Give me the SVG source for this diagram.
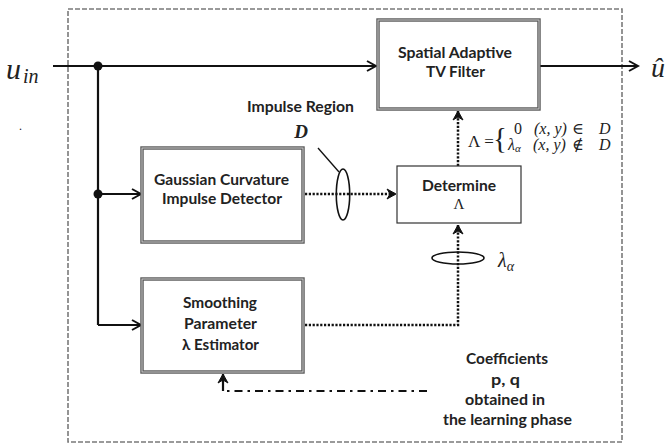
<svg xmlns="http://www.w3.org/2000/svg" width="667" height="446" viewBox="0 0 667 446">
<style>
  .lbl { font-family: Lato, "Liberation Sans", sans-serif; font-weight: 700; font-size: 14.5px; fill: #222; text-anchor: middle; }
  .math { font-family: "Liberation Serif", "DejaVu Serif", serif; font-style: italic; fill: #222; }
  .mathr { font-family: "Liberation Serif", "DejaVu Serif", serif; fill: #222; }
  .boxo { fill: #fff; stroke: #555; stroke-width: 3.4; }
  .boxi { fill: none; stroke: #cfcfcf; stroke-width: 1; }
  .solid { fill: none; stroke: #111; stroke-width: 2.2; }
  .dot { fill: none; stroke: #111; stroke-width: 2.5; stroke-dasharray: 2.2 1.6; }
  .dashdot { fill: none; stroke: #111; stroke-width: 2.2; stroke-dasharray: 8 5 2.5 5; }
</style>
<defs>
  <marker id="ah" markerWidth="12" markerHeight="12" refX="10" refY="6" orient="auto" markerUnits="userSpaceOnUse">
    <path d="M1,1 L10,6 L1,11" fill="none" stroke="#111" stroke-width="2"/>
  </marker>
  <marker id="ahf" markerWidth="12" markerHeight="12" refX="10" refY="6" orient="auto" markerUnits="userSpaceOnUse">
    <path d="M1,1 L10,6 L1,11 L4,6 Z" fill="#111" stroke="#111" stroke-width="1"/>
  </marker>
</defs>
<rect width="667" height="446" fill="#fff"/>

<g id="frame">
  <rect x="68" y="9" width="554" height="433" fill="none" stroke="#7a7a7a" stroke-width="1.6" stroke-dasharray="5 2"/>
</g>

<g id="connectors">
  <line class="solid" x1="53" y1="66" x2="376" y2="66" marker-end="url(#ah)"/>
  <line class="solid" x1="98" y1="66" x2="98" y2="325"/>
  <line class="solid" x1="98" y1="194" x2="141" y2="194" marker-end="url(#ah)"/>
  <polyline class="solid" points="98,325 141,325" marker-end="url(#ah)"/>
  <circle cx="98" cy="66" r="4.5" fill="#111"/>
  <circle cx="98" cy="194" r="4.5" fill="#111"/>
  <line class="solid" x1="540" y1="66" x2="638" y2="66" marker-end="url(#ah)"/>
  <line class="dot" x1="305" y1="194" x2="396" y2="194" marker-end="url(#ahf)"/>
  <line class="dot" x1="458" y1="166" x2="458" y2="111" marker-end="url(#ahf)"/>
  <polyline class="dot" points="305,325 458,325 458,225" marker-end="url(#ahf)"/>
  <polyline class="dashdot" points="427,391 223,391"/>
  <line class="solid" x1="223" y1="391" x2="223" y2="374" marker-end="url(#ahf)"/>
  <ellipse cx="343" cy="194.5" rx="6.7" ry="25.5" fill="none" stroke="#111" stroke-width="1.6"/>
  <line x1="318" y1="148" x2="339" y2="172" stroke="#111" stroke-width="1.4"/>
  <ellipse cx="458" cy="258" rx="26" ry="6" fill="none" stroke="#111" stroke-width="1.6"/>
</g>

<g id="filter">
  <rect class="boxo" x="378" y="20" width="161" height="89"/>
  <rect class="boxi" x="378" y="20" width="161" height="89"/>
  <text class="lbl" x="455" y="58" textLength="114" lengthAdjust="spacingAndGlyphs">Spatial Adaptive</text>
  <text class="lbl" x="455.5" y="77" textLength="59" lengthAdjust="spacingAndGlyphs">TV Filter</text>
</g>

<g id="gaussian">
  <rect class="boxo" x="142" y="148" width="161" height="94"/>
  <rect class="boxi" x="142" y="148" width="161" height="94"/>
  <text class="lbl" x="221.5" y="185" textLength="135" lengthAdjust="spacingAndGlyphs">Gaussian Curvature</text>
  <text class="lbl" x="222" y="204" textLength="120" lengthAdjust="spacingAndGlyphs">Impulse Detector</text>
</g>

<g id="smoothing">
  <rect class="boxo" x="142" y="279" width="161" height="93"/>
  <rect class="boxi" x="142" y="279" width="161" height="93"/>
  <text class="lbl" x="220" y="308" textLength="74" lengthAdjust="spacingAndGlyphs">Smoothing</text>
  <text class="lbl" x="220.5" y="329" textLength="73" lengthAdjust="spacingAndGlyphs">Parameter</text>
  <text class="lbl" x="220.5" y="350" textLength="77" lengthAdjust="spacingAndGlyphs">λ Estimator</text>
</g>

<g id="determine">
  <rect x="397" y="166" width="124" height="57" fill="#fff" stroke="#333" stroke-width="1.2"/>
  <text class="lbl" x="459" y="191" textLength="74" lengthAdjust="spacingAndGlyphs">Determine</text>
  <text class="mathr" x="459" y="209" font-size="15" text-anchor="middle">Λ</text>
</g>

<g id="labels">
  <text class="math" x="6" y="79" font-size="30">u</text>
  <text class="math" x="23" y="83" font-size="20">in</text>
  <text class="mathr" x="19" y="130" font-size="12">.</text>
  <text class="math" x="651" y="77" font-size="28">û</text>
  <text class="lbl" x="300.5" y="112" textLength="107" lengthAdjust="spacingAndGlyphs">Impulse Region</text>
  <text class="math" x="301" y="138" font-size="19" font-weight="700" text-anchor="middle">D</text>
  <text class="mathr" x="468" y="147" font-size="17">Λ =</text>
  <text class="mathr" x="493" y="148" font-size="29" font-weight="300">{</text>
  <text class="mathr" x="514" y="134" font-size="16">0</text>
  <text class="math" x="534" y="134" font-size="16">(x, y)</text>
  <text class="mathr" x="572" y="134" font-size="16">∈</text>
  <text class="math" x="599" y="134" font-size="16">D</text>
  <text class="math" x="508" y="150" font-size="16">λ<tspan font-size="11" dy="2">α</tspan></text>
  <text class="math" x="533" y="150" font-size="16">(x, y)</text>
  <text class="mathr" x="572" y="150" font-size="16">∉</text>
  <text class="math" x="599" y="150" font-size="16">D</text>
  <text class="math" x="498" y="267" font-size="20">λ<tspan font-size="14" dy="4">α</tspan></text>
  <text class="lbl" x="507" y="364" textLength="82" lengthAdjust="spacingAndGlyphs">Coefficients</text>
  <text class="lbl" x="505.5" y="385" textLength="29" lengthAdjust="spacingAndGlyphs">p, q</text>
  <text class="lbl" x="505" y="405" textLength="80" lengthAdjust="spacingAndGlyphs">obtained in</text>
  <text class="lbl" x="507.5" y="425" textLength="129" lengthAdjust="spacingAndGlyphs">the learning phase</text>
</g>
</svg>
